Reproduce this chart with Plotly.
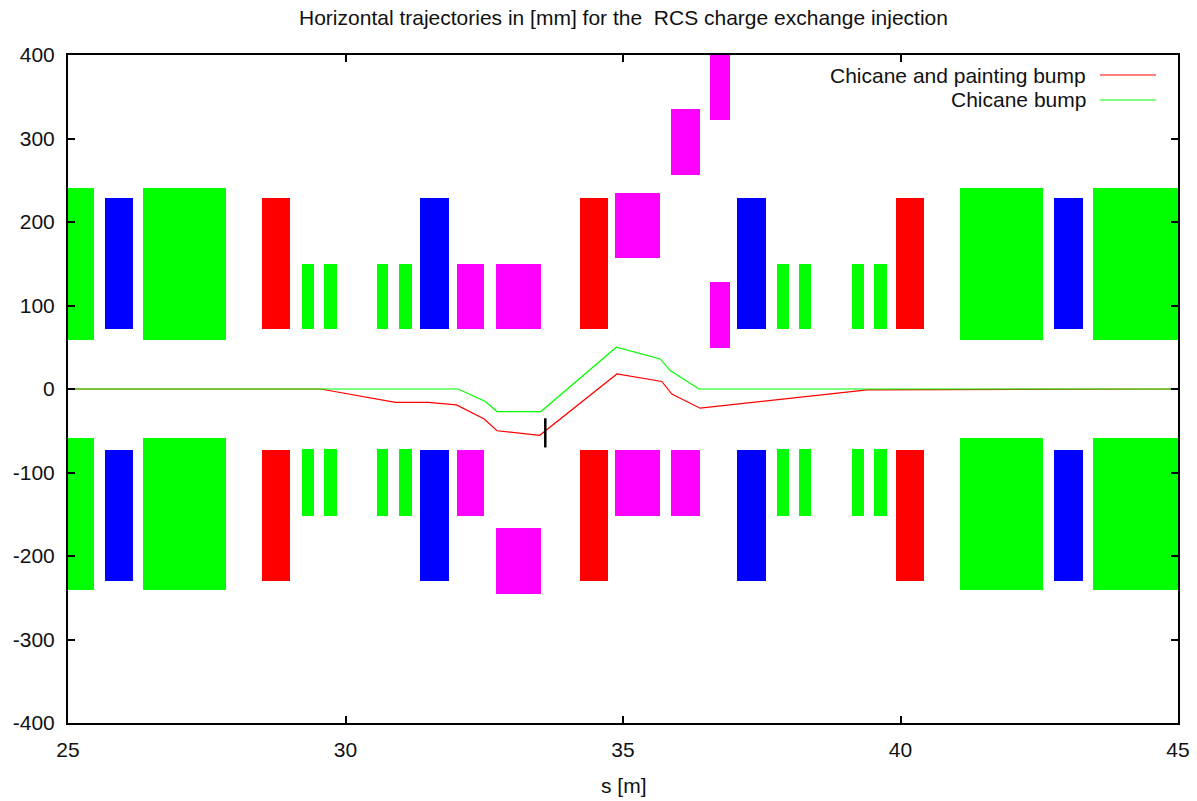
import plotly.graph_objects as go

# Magnet blocks, grouped by colour: start and end in s [m], low and high in mm
green_s0 = [25.0, 26.36, 41.07, 43.47, 25.0, 26.36, 41.07, 43.47,
            29.22, 29.62, 30.56, 30.97, 37.77, 38.17, 39.13, 39.53,
            29.22, 29.62, 30.56, 30.97, 37.77, 38.17, 39.13, 39.53]
green_s1 = [25.46, 27.85, 42.57, 45.0, 25.46, 27.85, 42.57, 45.0,
            29.44, 29.84, 30.77, 31.19, 37.99, 38.39, 39.35, 39.75,
            29.44, 29.84, 30.77, 31.19, 37.99, 38.39, 39.35, 39.75]
green_lo = [59, 59, 59, 59, -241, -241, -241, -241] + [72] * 8 + [-151.5] * 8
green_hi = [241, 241, 241, 241, -59, -59, -59, -59] + [150] * 8 + [-72] * 8

blue_s0 = [25.66, 31.35, 37.05, 42.77] * 2
blue_s1 = [26.18, 31.87, 37.57, 43.29] * 2
blue_lo = [72] * 4 + [-230] * 4
blue_hi = [229] * 4 + [-72.5] * 4

red_s0 = [28.5, 34.23, 39.91] * 2
red_s1 = [29.0, 34.73, 40.43] * 2
red_lo = [72] * 3 + [-230] * 3
red_hi = [229] * 3 + [-72.5] * 3

magenta_s0 = [32.0, 32.72, 34.86, 35.87, 36.57, 36.57, 32.0, 32.72, 34.86, 35.87]
magenta_s1 = [32.5, 33.53, 35.67, 36.39, 36.93, 36.93, 32.5, 33.53, 35.67, 36.39]
magenta_lo = [72, 72, 157, 256, 322, 49, -151.5, -246, -151.5, -151.5]
magenta_hi = [150, 150, 235, 335, 400, 128, -72.5, -166, -72.5, -72.5]

# Trajectories
red_s = [25.0, 29.55, 30.9, 31.49, 32.0, 32.5, 32.73, 33.5, 34.89, 35.7, 35.88, 36.39, 39.4, 45.0]
red_x = [0, 0, -16, -16, -19, -36, -50, -55.5, 18, 9, -6, -23, -1, 0]
green_s = [25.0, 32.03, 32.52, 32.73, 33.52, 34.88, 35.67, 35.85, 36.37, 45.0]
green_x = [0, 0, -15, -27, -27, 50, 36, 22, 0, 0]

# Foil marker
foil_s = [33.6, 33.6]
foil_x = [-35, -70]

x_ticks = [25, 30, 35, 40, 45]
x_tick_text = ["25", "30", "35", "40", "45"]
y_ticks = [-400, -300, -200, -100, 0, 100, 200, 300, 400]
y_tick_text = ["-400", "-300", "-200", "-100", "0", "100", "200", "300", "400"]

title_text = "Horizontal trajectories in [mm] for the  RCS charge exchange injection"
x_label = "s [m]"
red_name = "Chicane and painting bump"
green_name = "Chicane bump"

FONT = "Liberation Sans, Arial, sans-serif"
TXT = "#111111"
SIZE = 21

fig = go.Figure()


def blocks(s0, s1, lo, hi, colour, name):
    fig.add_trace(go.Bar(
        x=[(a + b) / 2 for a, b in zip(s0, s1)],
        width=[b - a for a, b in zip(s0, s1)],
        base=lo,
        y=[h - l for h, l in zip(hi, lo)],
        marker=dict(color=colour, line=dict(width=0)),
        name=name, showlegend=False,
    ))


blocks(green_s0, green_s1, green_lo, green_hi, "#00ff00", "Green magnets")
blocks(blue_s0, blue_s1, blue_lo, blue_hi, "#0000ff", "Blue magnets")
blocks(red_s0, red_s1, red_lo, red_hi, "#ff0000", "Red magnets")
blocks(magenta_s0, magenta_s1, magenta_lo, magenta_hi, "#ff00ff", "Magenta magnets")

fig.add_trace(go.Scatter(x=red_s, y=red_x, mode="lines", name=red_name,
                         line=dict(color="#ff0000", width=1.2), showlegend=False))
fig.add_trace(go.Scatter(x=green_s, y=green_x, mode="lines", name=green_name,
                         line=dict(color="#00ff00", width=1.2), showlegend=False))
fig.add_trace(go.Scatter(x=foil_s, y=foil_x, mode="lines", name="Foil",
                         line=dict(color="#000000", width=2.5), showlegend=False))

W, H = 1197, 801
L, R, T, B = 68, 1178, 55, 723


def px(x):
    return (x - L) / (R - L)


def py(y):
    return (B - y) / (B - T)


for label, colour, ypx in [(red_name, "#ff0000", 75), (green_name, "#00ff00", 100)]:
    fig.add_annotation(text=label, xref="paper", yref="paper", x=px(1088), y=py(ypx),
                       xanchor="right", yanchor="middle", showarrow=False,
                       font=dict(family=FONT, size=SIZE, color=TXT))
    fig.add_shape(type="line", xref="paper", yref="paper", x0=px(1100), x1=px(1156),
                  y0=py(ypx), y1=py(ypx), line=dict(color=colour, width=1.2))

# x-axis label placed as text so the plot area keeps its exact margins
fig.add_annotation(text=x_label, xref="paper", yref="paper", x=px(624), y=py(786),
                   xanchor="center", yanchor="middle", showarrow=False,
                   font=dict(family=FONT, size=SIZE, color=TXT))

axis = dict(showgrid=False, zeroline=False, showline=True, linecolor="#000000", linewidth=2,
            mirror="ticks", ticks="inside", ticklen=7, tickwidth=1.5, tickcolor="#000000",
            ticklabelstandoff=7, tickmode="array", automargin=False,
            tickfont=dict(family=FONT, size=SIZE, color=TXT))

fig.update_layout(
    width=W, height=H, autosize=False,
    margin=dict(l=L, r=W - R, t=T, b=H - B, pad=0),
    paper_bgcolor="white", plot_bgcolor="white",
    barmode="overlay", bargap=0, showlegend=False,
    title=dict(text=title_text, x=623.5 / W, xanchor="center", y=1 - 18 / H, yanchor="middle",
               font=dict(family=FONT, size=SIZE, color=TXT)),
    xaxis=dict(axis, range=[25, 45], tickvals=x_ticks, ticktext=x_tick_text),
    yaxis=dict(axis, range=[-400, 400], tickvals=y_ticks, ticktext=y_tick_text),
)

fig.write_html("out.html", config=dict(displayModeBar=False),
               post_script="document.body.style.margin='0';document.body.style.overflow='hidden';")
